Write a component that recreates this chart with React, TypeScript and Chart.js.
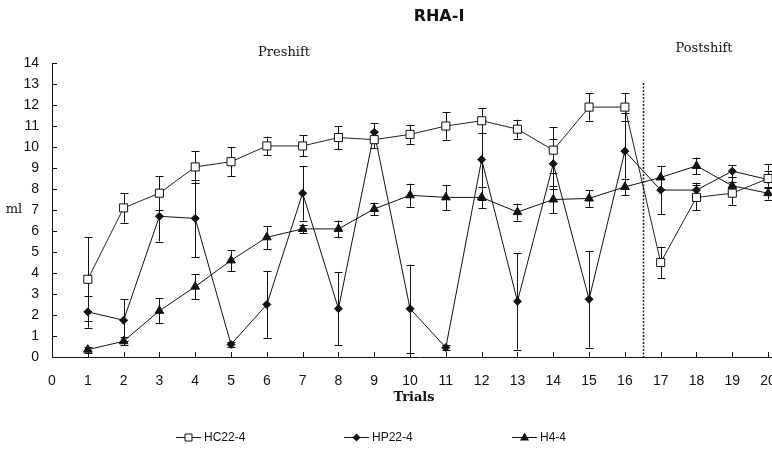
import { useEffect, useRef } from 'react';
import { Chart, registerables } from 'chart.js';

Chart.register(...registerables);

const trials = [1, 2, 3, 4, 5, 6, 7, 8, 9, 10, 11, 12, 13, 14, 15, 16, 17, 18, 19, 20];
const xTickValues = [0, 1, 2, 3, 4, 5, 6, 7, 8, 9, 10, 11, 12, 13, 14, 15, 16, 17, 18, 19, 20];

const hc = [3.7, 7.1, 7.8, 9.05, 9.3, 10.05, 10.05, 10.45, 10.35, 10.6, 11.0, 11.25, 10.85, 9.85, 11.9, 11.9, 4.5, 7.6, 7.8, 8.5];
const hcErr = [2.0, 0.7, 0.8, 0.75, 0.7, 0.45, 0.5, 0.55, 0.4, 0.45, 0.65, 0.6, 0.45, 1.1, 0.65, 0.65, 0.75, 0.6, 0.55, 0.7];

const hp = [2.15, 1.75, 6.7, 6.6, 0.6, 2.5, 7.8, 2.3, 10.7, 2.3, 0.45, 9.4, 2.65, 9.2, 2.75, 9.8, 7.95, 7.95, 8.85, 8.45];
const hpErr = [0.75, 1.0, 1.2, 1.85, 0.1, 1.6, 1.3, 1.75, 0.45, 2.1, 0.1, 1.9, 2.3, 1.2, 2.3, 1.8, 1.15, 0.35, 0.3, 0.4];

const h4 = [0.35, 0.75, 2.2, 3.35, 4.6, 5.7, 6.1, 6.1, 7.05, 7.7, 7.6, 7.6, 6.9, 7.5, 7.55, 8.1, 8.55, 9.1, 8.15, 7.8];
const h4Err = [0.15, 0.2, 0.6, 0.6, 0.5, 0.55, 0.2, 0.4, 0.3, 0.55, 0.6, 0.5, 0.4, 0.65, 0.4, 0.4, 0.55, 0.4, 0.4, 0.3];

const seriesNames = ['HC22-4', 'HP22-4', 'H4-4'];
const titleText = 'RHA-I';
const yTitle = 'ml';
const xTitle = 'Trials';
const phaseLabels = ['Preshift', 'Postshift'];
const shiftAt = 16.5;
const shiftTop = 13.05;

const INK = '#111';
const SANS = "'Liberation Sans', Arial, sans-serif";
const SERIF = "'DejaVu Serif', serif";

function drawMarker(ctx: CanvasRenderingContext2D, kind: string, x: number, y: number) {
  ctx.save();
  ctx.lineWidth = 1;
  ctx.strokeStyle = INK;
  ctx.fillStyle = INK;
  ctx.beginPath();
  if (kind === 'rect') {
    ctx.fillStyle = '#fff';
    ctx.rect(x - 3.5, y - 3.5, 7, 7);
    ctx.fill();
    ctx.stroke();
  } else if (kind === 'rectRot') {
    ctx.moveTo(x - 4, y);
    ctx.lineTo(x, y - 4);
    ctx.lineTo(x + 4, y);
    ctx.lineTo(x, y + 4);
    ctx.closePath();
    ctx.fill();
  } else {
    ctx.moveTo(x, y - 5);
    ctx.lineTo(x + 4.5, y + 3);
    ctx.lineTo(x - 4.5, y + 3);
    ctx.closePath();
    ctx.fill();
  }
  ctx.restore();
}

const errorBars = {
  id: 'errorBars',
  beforeDatasetsDraw(chart: any) {
    const { ctx } = chart;
    const xs = chart.scales.x;
    const ys = chart.scales.y;
    ctx.save();
    ctx.strokeStyle = INK;
    ctx.lineWidth = 1;
    chart.data.datasets.forEach((ds: any) => {
      const errs: number[] = ds.errors;
      ds.data.forEach((p: any, i: number) => {
        const x = Math.round(xs.getPixelForValue(p.x)) + 0.5;
        const yt = ys.getPixelForValue(p.y + errs[i]);
        const yb = ys.getPixelForValue(Math.max(0, p.y - errs[i]));
        ctx.beginPath();
        ctx.moveTo(x, yt);
        ctx.lineTo(x, yb);
        ctx.moveTo(x - 4, Math.round(yt) + 0.5);
        ctx.lineTo(x + 4, Math.round(yt) + 0.5);
        ctx.moveTo(x - 4, Math.round(yb) + 0.5);
        ctx.lineTo(x + 4, Math.round(yb) + 0.5);
        ctx.stroke();
      });
    });
    ctx.restore();
  },
};

const decor = {
  id: 'decor',
  afterDraw(chart: any) {
    const { ctx, chartArea } = chart;
    const xs = chart.scales.x;
    const ys = chart.scales.y;
    ctx.save();
    ctx.strokeStyle = INK;
    ctx.lineWidth = 1;
    // inward tick marks
    ctx.beginPath();
    ys.ticks.forEach((t: any) => {
      const y = Math.round(ys.getPixelForValue(t.value)) + 0.5;
      ctx.moveTo(chartArea.left, y);
      ctx.lineTo(chartArea.left + 5, y);
    });
    xs.ticks.forEach((t: any) => {
      if (t.value === 0) return;
      const x = Math.round(xs.getPixelForValue(t.value)) + 0.5;
      ctx.moveTo(x, chartArea.bottom);
      ctx.lineTo(x, chartArea.bottom - 5);
    });
    ctx.stroke();

    // shift line
    const sx = Math.round(xs.getPixelForValue(shiftAt)) + 0.5;
    ctx.beginPath();
    ctx.setLineDash([2, 1.5]);
    ctx.lineWidth = 1.5;
    ctx.strokeStyle = '#222';
    ctx.moveTo(sx, ys.getPixelForValue(shiftTop));
    ctx.lineTo(sx, chartArea.bottom);
    ctx.stroke();
    ctx.setLineDash([]);

    // texts
    ctx.fillStyle = INK;
    ctx.textAlign = 'center';
    ctx.textBaseline = 'middle';
    ctx.font = `bold 16px 'DejaVu Sans', sans-serif`;
    ctx.fillText(titleText, 439, 17);
    ctx.font = `13px ${SERIF}`;
    ctx.fillText(phaseLabels[0], 284, 53);
    ctx.fillText(phaseLabels[1], 704, 49);
    ctx.fillText(yTitle, 14, 210);
    ctx.font = `bold 13px ${SERIF}`;
    ctx.fillText(xTitle, 414, 398);

    // legend
    const items = [
      { name: seriesNames[0], kind: 'rect', x0: 176 },
      { name: seriesNames[1], kind: 'rectRot', x0: 344 },
      { name: seriesNames[2], kind: 'triangle', x0: 512 },
    ];
    const ly = 437;
    ctx.font = `12px ${SANS}`;
    ctx.textAlign = 'left';
    items.forEach((it) => {
      ctx.beginPath();
      ctx.strokeStyle = INK;
      ctx.lineWidth = 1;
      ctx.moveTo(it.x0, ly + 0.5);
      ctx.lineTo(it.x0 + 25, ly + 0.5);
      ctx.stroke();
      drawMarker(ctx, it.kind, it.x0 + 12.5, ly + 0.5);
      ctx.fillStyle = INK;
      ctx.fillText(it.name, it.x0 + 28, ly + 1);
    });
    ctx.restore();
  },
};

export default function App() {
  const ref = useRef<HTMLCanvasElement>(null);
  useEffect(() => {
    const canvas = ref.current;
    if (!canvas) return;
    const mk = (vals: number[]) => trials.map((t, i) => ({ x: t, y: vals[i] }));
    const chart = new Chart(canvas, {
      type: 'line',
      data: {
        datasets: [
          {
            label: seriesNames[0],
            data: mk(hc),
            errors: hcErr,
            borderColor: '#222',
            borderWidth: 1,
            pointStyle: 'rect',
            pointRadius: 5.7,
            pointBackgroundColor: '#fff',
            pointBorderColor: INK,
            pointBorderWidth: 1,
            tension: 0,
          } as any,
          {
            label: seriesNames[1],
            data: mk(hp),
            errors: hpErr,
            borderColor: INK,
            borderWidth: 1,
            pointStyle: 'rectRot',
            pointRadius: 4,
            pointBackgroundColor: INK,
            pointBorderColor: INK,
            pointBorderWidth: 1,
            tension: 0,
          } as any,
          {
            label: seriesNames[2],
            data: mk(h4),
            errors: h4Err,
            borderColor: INK,
            borderWidth: 1,
            pointStyle: 'triangle',
            pointRadius: 5,
            pointBackgroundColor: INK,
            pointBorderColor: INK,
            pointBorderWidth: 1,
            tension: 0,
          } as any,
        ],
      },
      options: {
        responsive: false,
        devicePixelRatio: 1,
        animation: false,
        layout: { padding: { left: 0, top: 63, right: 14, bottom: 0 } },
        plugins: { legend: { display: false }, tooltip: { enabled: false }, title: { display: false } },
        scales: {
          x: {
            type: 'linear',
            min: 0,
            max: 20.5,
            grid: { display: false },
            border: { display: true, color: INK, width: 1 },
            ticks: { padding: 8, color: INK, font: { family: SANS, size: 14 }, maxRotation: 0, autoSkip: false },
            afterBuildTicks: (s: any) => {
              s.ticks = xTickValues.map((v) => ({ value: v }));
            },
            afterFit: (s: any) => {
              s.height = 92;
            },
          },
          y: {
            min: 0,
            max: 14,
            grid: { display: false },
            border: { display: true, color: INK, width: 1 },
            ticks: { stepSize: 1, padding: 5, color: INK, font: { family: SANS, size: 14 } },
            afterFit: (s: any) => {
              s.width = 52;
            },
          },
        },
      } as any,
      plugins: [errorBars, decor],
    });
    return () => chart.destroy();
  }, []);
  return (
    <div style={{ position: 'fixed', left: 0, top: 0, width: 772, height: 449, overflow: 'hidden', background: '#fff' }}>
      <canvas ref={ref} width={800} height={449} style={{ display: 'block', width: 800, height: 449 }} />
    </div>
  );
}
